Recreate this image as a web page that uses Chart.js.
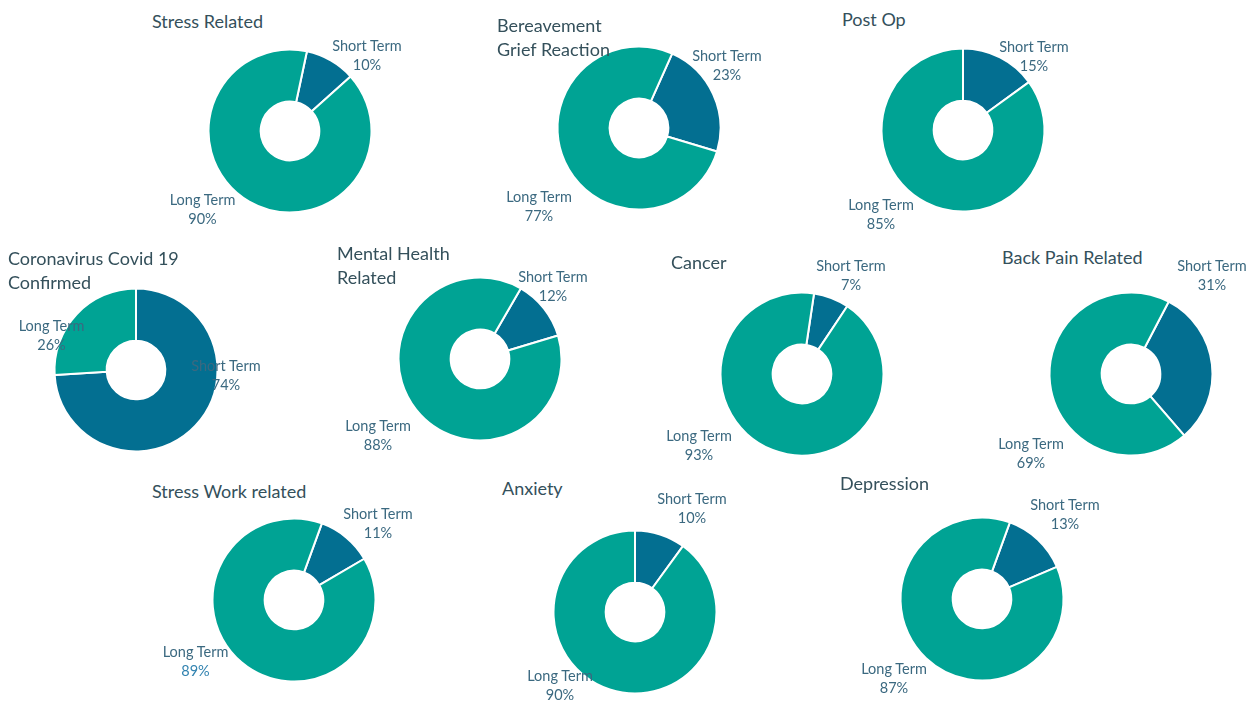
<!DOCTYPE html>
<html><head><meta charset="utf-8">
<script src="https://cdn.jsdelivr.net/npm/chart.js@4.4.1/dist/chart.umd.min.js"></script>
<style>
html,body{margin:0;padding:0;background:#fff;width:1257px;height:702px;overflow:hidden;position:relative;font-family:Lato,'Open Sans',sans-serif}
.cv{position:absolute}
.t{position:absolute;color:#34505b;font-size:18px;line-height:24px;white-space:nowrap}
.l{position:absolute;color:#3b6980;font-size:14.5px;line-height:19px;text-align:center;white-space:nowrap;transform:translateX(-50%)}
</style></head>
<body>
<script>
// ---- data ----
const categories = ["Short Term", "Long Term"];
const titles = [
  ["Stress Related"], ["Bereavement", "Grief Reaction"], ["Post Op"],
  ["Coronavirus Covid 19", "Confirmed"], ["Mental Health", "Related"], ["Cancer"], ["Back Pain Related"],
  ["Stress Work related"], ["Anxiety"], ["Depression"]
];
const shortTerm = [10, 23, 15, 74, 12, 7, 31, 11, 10, 13];
const longTerm  = [90, 77, 85, 26, 88, 93, 69, 89, 90, 87];

// ---- layout / style (not data) ----
const centers = [[290,131],[639,128],[963,130],[135.5,370],[479.5,359],[801.5,373.5],[1131,374],[294,600],[635,612],[982,599]];
const rotations = [12, 24, 0, 0, 30, 8.5, 27.5, 20, 0, 20];
const titlePos = [[152,21],[497,25],[842,19],[8,258],[337,253],[671,262],[1002,257],[152,491],[502,488],[840,483]];
// [shortX, shortY, longX, longY] centre of first text line
const labelPos = [
  [367,45.5, 202.5,199],
  [727,55.5, 539,196.5],
  [1034,46, 881,204],
  [226,365, 51.5,325],
  [553,276, 378,425],
  [851,265.5, 699,435],
  [1212,265, 1031,443.5],
  [378,513.5, 195.5,651.5],
  [692,498, 560,675],
  [1065,504, 894,668.5]
];
const colors = ["#036f91", "#00a394"];
const R = 81.5, SIZE = 172;

titles.forEach((t, i) => {
  const [cx, cy] = centers[i];
  const c = document.createElement('canvas');
  c.className = 'cv';
  c.width = SIZE; c.height = SIZE;
  c.style.left = (cx - SIZE/2) + 'px';
  c.style.top = (cy - SIZE/2) + 'px';
  c.style.width = SIZE + 'px'; c.style.height = SIZE + 'px';
  document.body.appendChild(c);
  new Chart(c, {
    type: 'doughnut',
    data: { labels: categories, datasets: [{ data: [shortTerm[i], longTerm[i]], backgroundColor: colors, borderColor: '#ffffff', borderWidth: 2 }] },
    options: {
      responsive: false, animation: false, devicePixelRatio: 1,
      radius: R, cutout: '36%', rotation: rotations[i],
      layout: { padding: 0 },
      plugins: { legend: { display: false }, tooltip: { enabled: false } }
    }
  });
});

titles.forEach((t, i) => {
  const d = document.createElement('div');
  d.className = 't';
  d.style.left = titlePos[i][0] + 'px';
  d.style.top = (titlePos[i][1] - 12) + 'px';
  d.innerHTML = t.join('<br>');
  document.body.appendChild(d);
  const lp = labelPos[i];
  [[lp[0], lp[1], categories[0], shortTerm[i]], [lp[2], lp[3], categories[1], longTerm[i]]].forEach(([x, y, name, v], k) => {
    const l = document.createElement('div');
    l.className = 'l';
    l.style.left = x + 'px';
    l.style.top = (y - 9.5) + 'px';
    const pctColor = (i === 7 && k === 1) ? ' style="color:#3283b0"' : '';
    l.innerHTML = name + '<br><span' + pctColor + '>' + v + '%</span>';
    document.body.appendChild(l);
  });
});
</script>
</body></html>
